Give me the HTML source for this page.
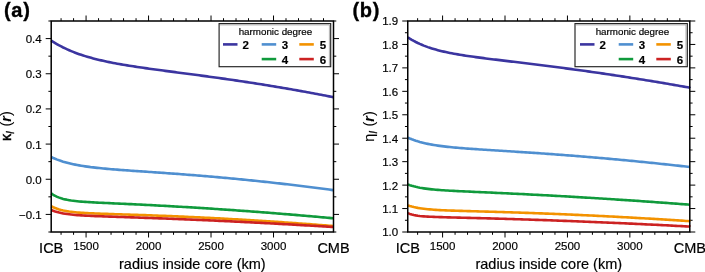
<!DOCTYPE html>
<html><head><meta charset="utf-8"><style>
html,body{margin:0;padding:0;background:#fff;}
svg{display:block;will-change:transform;}
text{font-family:"Liberation Sans",sans-serif;fill:#000;stroke:#000;stroke-width:0.18px;}
.tl{font-size:11.5px;}
.el{font-size:14.5px;}
.lg{font-size:9.8px;}
.ln{font-size:11.5px;font-weight:bold;}
.pl{font-size:20px;font-weight:bold;letter-spacing:0.7px;stroke-width:0.35px;}
.yl{font-size:14.5px;stroke-width:0.08px;}
</style></head><body>
<svg width="705" height="272" viewBox="0 0 705 272">
<rect width="705" height="272" fill="#fff"/>
<path d="M61.07,232.0v2.8M61.07,21.0v-2.8M73.57,232.0v2.8M73.57,21.0v-2.8M86.07,232.0v5.5M86.07,21.0v-5.5M98.56,232.0v2.8M98.56,21.0v-2.8M111.06,232.0v2.8M111.06,21.0v-2.8M123.56,232.0v2.8M123.56,21.0v-2.8M136.05,232.0v2.8M136.05,21.0v-2.8M148.55,232.0v5.5M148.55,21.0v-5.5M161.05,232.0v2.8M161.05,21.0v-2.8M173.54,232.0v2.8M173.54,21.0v-2.8M186.04,232.0v2.8M186.04,21.0v-2.8M198.54,232.0v2.8M198.54,21.0v-2.8M211.03,232.0v5.5M211.03,21.0v-5.5M223.53,232.0v2.8M223.53,21.0v-2.8M236.03,232.0v2.8M236.03,21.0v-2.8M248.52,232.0v2.8M248.52,21.0v-2.8M261.02,232.0v2.8M261.02,21.0v-2.8M273.52,232.0v5.5M273.52,21.0v-5.5M286.01,232.0v2.8M286.01,21.0v-2.8M298.51,232.0v2.8M298.51,21.0v-2.8M311.01,232.0v2.8M311.01,21.0v-2.8M323.50,232.0v2.8M323.50,21.0v-2.8M51.2,232.00h-2.8M333.5,232.00h2.8M51.2,214.42h-5.5M333.5,214.42h5.5M51.2,196.83h-2.8M333.5,196.83h2.8M51.2,179.25h-5.5M333.5,179.25h5.5M51.2,161.67h-2.8M333.5,161.67h2.8M51.2,144.08h-5.5M333.5,144.08h5.5M51.2,126.50h-2.8M333.5,126.50h2.8M51.2,108.92h-5.5M333.5,108.92h5.5M51.2,91.33h-2.8M333.5,91.33h2.8M51.2,73.75h-5.5M333.5,73.75h5.5M51.2,56.17h-2.8M333.5,56.17h2.8M51.2,38.58h-5.5M333.5,38.58h5.5M51.2,21.00h-2.8M333.5,21.00h2.8" stroke="#000" stroke-width="1.0" fill="none"/>
<path d="M51.2,40.61 L53.2,41.90 L55.2,43.12 L57.2,44.29 L59.2,45.41 L61.2,46.47 L63.2,47.49 L65.2,48.45 L67.2,49.38 L69.2,50.27 L71.2,51.11 L73.2,51.92 L75.2,52.70 L77.2,53.44 L79.2,54.15 L81.2,54.84 L83.2,55.49 L85.2,56.12 L87.2,56.73 L89.2,57.31 L91.2,57.87 L93.2,58.41 L95.2,58.93 L97.2,59.43 L99.2,59.92 L101.2,60.38 L103.2,60.84 L105.2,61.28 L107.2,61.70 L109.2,62.12 L111.2,62.52 L113.2,62.91 L115.2,63.29 L117.2,63.66 L119.2,64.02 L121.2,64.37 L123.2,64.72 L125.2,65.05 L127.2,65.38 L129.2,65.71 L131.2,66.02 L133.2,66.34 L135.2,66.64 L137.2,66.95 L139.2,67.24 L141.2,67.54 L143.2,67.83 L145.2,68.11 L147.2,68.39 L149.2,68.67 L151.2,68.95 L153.2,69.23 L155.2,69.50 L157.2,69.77 L159.2,70.04 L161.2,70.31 L163.2,70.58 L165.2,70.84 L167.2,71.11 L169.2,71.37 L171.2,71.63 L173.2,71.90 L175.2,72.16 L177.2,72.42 L179.2,72.68 L181.2,72.94 L183.2,73.21 L185.2,73.47 L187.2,73.73 L189.2,74.00 L191.2,74.26 L193.2,74.53 L195.2,74.79 L197.2,75.06 L199.2,75.32 L201.2,75.59 L203.2,75.86 L205.2,76.13 L207.2,76.40 L209.2,76.68 L211.2,76.95 L213.2,77.23 L215.2,77.50 L217.2,77.78 L219.2,78.06 L221.2,78.34 L223.2,78.62 L225.2,78.91 L227.2,79.19 L229.2,79.48 L231.2,79.77 L233.2,80.06 L235.2,80.35 L237.2,80.65 L239.2,80.94 L241.2,81.24 L243.2,81.54 L245.2,81.84 L247.2,82.15 L249.2,82.45 L251.2,82.76 L253.2,83.07 L255.2,83.38 L257.2,83.69 L259.2,84.01 L261.2,84.32 L263.2,84.64 L265.2,84.96 L267.2,85.29 L269.2,85.61 L271.2,85.94 L273.2,86.27 L275.2,86.60 L277.2,86.93 L279.2,87.27 L281.2,87.60 L283.2,87.94 L285.2,88.29 L287.2,88.63 L289.2,88.97 L291.2,89.32 L293.2,89.67 L295.2,90.03 L297.2,90.38 L299.2,90.74 L301.2,91.10 L303.2,91.46 L305.2,91.82 L307.2,92.18 L309.2,92.55 L311.2,92.92 L313.2,93.29 L315.2,93.67 L317.2,94.04 L319.2,94.42 L321.2,94.80 L323.2,95.19 L325.2,95.57 L327.2,95.96 L329.2,96.35 L331.2,96.74 L333.2,97.13 L333.5,97.19" stroke="#3b35a0" stroke-width="2.6" fill="none" stroke-linejoin="round"/>
<path d="M51.2,157.05 L53.2,157.97 L55.2,158.82 L57.2,159.61 L59.2,160.34 L61.2,161.02 L63.2,161.66 L65.2,162.24 L67.2,162.79 L69.2,163.30 L71.2,163.77 L73.2,164.22 L75.2,164.63 L77.2,165.02 L79.2,165.39 L81.2,165.73 L83.2,166.05 L85.2,166.35 L87.2,166.64 L89.2,166.91 L91.2,167.17 L93.2,167.41 L95.2,167.64 L97.2,167.87 L99.2,168.08 L101.2,168.28 L103.2,168.47 L105.2,168.66 L107.2,168.84 L109.2,169.02 L111.2,169.19 L113.2,169.35 L115.2,169.51 L117.2,169.67 L119.2,169.83 L121.2,169.98 L123.2,170.12 L125.2,170.27 L127.2,170.41 L129.2,170.56 L131.2,170.70 L133.2,170.84 L135.2,170.98 L137.2,171.11 L139.2,171.25 L141.2,171.39 L143.2,171.52 L145.2,171.66 L147.2,171.80 L149.2,171.93 L151.2,172.07 L153.2,172.21 L155.2,172.35 L157.2,172.49 L159.2,172.63 L161.2,172.77 L163.2,172.91 L165.2,173.05 L167.2,173.19 L169.2,173.33 L171.2,173.48 L173.2,173.62 L175.2,173.77 L177.2,173.92 L179.2,174.07 L181.2,174.22 L183.2,174.37 L185.2,174.52 L187.2,174.68 L189.2,174.83 L191.2,174.99 L193.2,175.15 L195.2,175.31 L197.2,175.47 L199.2,175.63 L201.2,175.80 L203.2,175.96 L205.2,176.13 L207.2,176.30 L209.2,176.47 L211.2,176.64 L213.2,176.81 L215.2,176.99 L217.2,177.16 L219.2,177.34 L221.2,177.52 L223.2,177.70 L225.2,177.88 L227.2,178.07 L229.2,178.25 L231.2,178.44 L233.2,178.63 L235.2,178.82 L237.2,179.01 L239.2,179.20 L241.2,179.40 L243.2,179.60 L245.2,179.79 L247.2,179.99 L249.2,180.20 L251.2,180.40 L253.2,180.60 L255.2,180.81 L257.2,181.02 L259.2,181.23 L261.2,181.44 L263.2,181.65 L265.2,181.86 L267.2,182.08 L269.2,182.30 L271.2,182.52 L273.2,182.74 L275.2,182.96 L277.2,183.18 L279.2,183.41 L281.2,183.64 L283.2,183.87 L285.2,184.10 L287.2,184.33 L289.2,184.56 L291.2,184.80 L293.2,185.03 L295.2,185.27 L297.2,185.51 L299.2,185.75 L301.2,186.00 L303.2,186.24 L305.2,186.49 L307.2,186.74 L309.2,186.99 L311.2,187.24 L313.2,187.49 L315.2,187.75 L317.2,188.00 L319.2,188.26 L321.2,188.52 L323.2,188.78 L325.2,189.04 L327.2,189.31 L329.2,189.58 L331.2,189.84 L333.2,190.11 L333.5,190.15" stroke="#4f8fd0" stroke-width="2.6" fill="none" stroke-linejoin="round"/>
<path d="M51.2,193.43 L53.2,194.76 L55.2,195.89 L57.2,196.84 L59.2,197.64 L61.2,198.32 L63.2,198.90 L65.2,199.39 L67.2,199.82 L69.2,200.18 L71.2,200.50 L73.2,200.77 L75.2,201.02 L77.2,201.23 L79.2,201.42 L81.2,201.60 L83.2,201.75 L85.2,201.89 L87.2,202.03 L89.2,202.15 L91.2,202.27 L93.2,202.38 L95.2,202.48 L97.2,202.59 L99.2,202.69 L101.2,202.78 L103.2,202.88 L105.2,202.97 L107.2,203.06 L109.2,203.16 L111.2,203.25 L113.2,203.34 L115.2,203.43 L117.2,203.52 L119.2,203.61 L121.2,203.70 L123.2,203.80 L125.2,203.89 L127.2,203.98 L129.2,204.08 L131.2,204.17 L133.2,204.27 L135.2,204.36 L137.2,204.46 L139.2,204.56 L141.2,204.66 L143.2,204.76 L145.2,204.86 L147.2,204.96 L149.2,205.06 L151.2,205.16 L153.2,205.27 L155.2,205.37 L157.2,205.48 L159.2,205.59 L161.2,205.69 L163.2,205.80 L165.2,205.91 L167.2,206.02 L169.2,206.13 L171.2,206.24 L173.2,206.36 L175.2,206.47 L177.2,206.58 L179.2,206.70 L181.2,206.81 L183.2,206.93 L185.2,207.05 L187.2,207.17 L189.2,207.29 L191.2,207.41 L193.2,207.53 L195.2,207.65 L197.2,207.78 L199.2,207.90 L201.2,208.03 L203.2,208.15 L205.2,208.28 L207.2,208.41 L209.2,208.54 L211.2,208.67 L213.2,208.80 L215.2,208.93 L217.2,209.06 L219.2,209.19 L221.2,209.33 L223.2,209.46 L225.2,209.60 L227.2,209.74 L229.2,209.87 L231.2,210.01 L233.2,210.15 L235.2,210.29 L237.2,210.43 L239.2,210.58 L241.2,210.72 L243.2,210.86 L245.2,211.01 L247.2,211.15 L249.2,211.30 L251.2,211.45 L253.2,211.60 L255.2,211.75 L257.2,211.90 L259.2,212.05 L261.2,212.20 L263.2,212.35 L265.2,212.51 L267.2,212.66 L269.2,212.82 L271.2,212.97 L273.2,213.13 L275.2,213.29 L277.2,213.45 L279.2,213.61 L281.2,213.77 L283.2,213.93 L285.2,214.10 L287.2,214.26 L289.2,214.42 L291.2,214.59 L293.2,214.76 L295.2,214.92 L297.2,215.09 L299.2,215.26 L301.2,215.43 L303.2,215.60 L305.2,215.77 L307.2,215.95 L309.2,216.12 L311.2,216.30 L313.2,216.47 L315.2,216.65 L317.2,216.83 L319.2,217.00 L321.2,217.18 L323.2,217.36 L325.2,217.54 L327.2,217.73 L329.2,217.91 L331.2,218.09 L333.2,218.28 L333.5,218.30" stroke="#109a3c" stroke-width="2.6" fill="none" stroke-linejoin="round"/>
<path d="M51.2,206.25 L53.2,207.22 L55.2,208.06 L57.2,208.79 L59.2,209.42 L61.2,209.96 L63.2,210.43 L65.2,210.84 L67.2,211.20 L69.2,211.52 L71.2,211.79 L73.2,212.03 L75.2,212.24 L77.2,212.43 L79.2,212.60 L81.2,212.75 L83.2,212.88 L85.2,213.01 L87.2,213.12 L89.2,213.22 L91.2,213.32 L93.2,213.41 L95.2,213.49 L97.2,213.57 L99.2,213.64 L101.2,213.72 L103.2,213.79 L105.2,213.85 L107.2,213.92 L109.2,213.99 L111.2,214.05 L113.2,214.11 L115.2,214.18 L117.2,214.24 L119.2,214.30 L121.2,214.37 L123.2,214.43 L125.2,214.49 L127.2,214.56 L129.2,214.62 L131.2,214.69 L133.2,214.75 L135.2,214.82 L137.2,214.88 L139.2,214.95 L141.2,215.02 L143.2,215.09 L145.2,215.16 L147.2,215.23 L149.2,215.30 L151.2,215.38 L153.2,215.45 L155.2,215.52 L157.2,215.60 L159.2,215.68 L161.2,215.75 L163.2,215.83 L165.2,215.91 L167.2,215.99 L169.2,216.07 L171.2,216.15 L173.2,216.24 L175.2,216.32 L177.2,216.41 L179.2,216.49 L181.2,216.58 L183.2,216.67 L185.2,216.76 L187.2,216.85 L189.2,216.94 L191.2,217.03 L193.2,217.12 L195.2,217.22 L197.2,217.31 L199.2,217.41 L201.2,217.50 L203.2,217.60 L205.2,217.70 L207.2,217.80 L209.2,217.90 L211.2,218.00 L213.2,218.10 L215.2,218.21 L217.2,218.31 L219.2,218.42 L221.2,218.52 L223.2,218.63 L225.2,218.74 L227.2,218.85 L229.2,218.96 L231.2,219.07 L233.2,219.18 L235.2,219.30 L237.2,219.41 L239.2,219.53 L241.2,219.64 L243.2,219.76 L245.2,219.88 L247.2,220.00 L249.2,220.12 L251.2,220.24 L253.2,220.36 L255.2,220.48 L257.2,220.61 L259.2,220.73 L261.2,220.86 L263.2,220.98 L265.2,221.11 L267.2,221.24 L269.2,221.37 L271.2,221.50 L273.2,221.63 L275.2,221.77 L277.2,221.90 L279.2,222.03 L281.2,222.17 L283.2,222.31 L285.2,222.44 L287.2,222.58 L289.2,222.72 L291.2,222.86 L293.2,223.00 L295.2,223.15 L297.2,223.29 L299.2,223.43 L301.2,223.58 L303.2,223.73 L305.2,223.87 L307.2,224.02 L309.2,224.17 L311.2,224.32 L313.2,224.47 L315.2,224.63 L317.2,224.78 L319.2,224.93 L321.2,225.09 L323.2,225.24 L325.2,225.40 L327.2,225.56 L329.2,225.72 L331.2,225.88 L333.2,226.04 L333.5,226.06" stroke="#f39200" stroke-width="2.6" fill="none" stroke-linejoin="round"/>
<path d="M51.2,210.00 L53.2,210.80 L55.2,211.48 L57.2,212.07 L59.2,212.58 L61.2,213.03 L63.2,213.41 L65.2,213.75 L67.2,214.05 L69.2,214.31 L71.2,214.54 L73.2,214.74 L75.2,214.93 L77.2,215.09 L79.2,215.24 L81.2,215.37 L83.2,215.50 L85.2,215.61 L87.2,215.72 L89.2,215.82 L91.2,215.91 L93.2,216.00 L95.2,216.08 L97.2,216.16 L99.2,216.24 L101.2,216.31 L103.2,216.39 L105.2,216.46 L107.2,216.53 L109.2,216.60 L111.2,216.67 L113.2,216.73 L115.2,216.80 L117.2,216.87 L119.2,216.94 L121.2,217.00 L123.2,217.07 L125.2,217.14 L127.2,217.21 L129.2,217.27 L131.2,217.34 L133.2,217.41 L135.2,217.48 L137.2,217.55 L139.2,217.62 L141.2,217.69 L143.2,217.76 L145.2,217.83 L147.2,217.90 L149.2,217.97 L151.2,218.05 L153.2,218.12 L155.2,218.19 L157.2,218.27 L159.2,218.34 L161.2,218.42 L163.2,218.49 L165.2,218.57 L167.2,218.65 L169.2,218.72 L171.2,218.80 L173.2,218.88 L175.2,218.96 L177.2,219.04 L179.2,219.12 L181.2,219.20 L183.2,219.28 L185.2,219.36 L187.2,219.45 L189.2,219.53 L191.2,219.61 L193.2,219.70 L195.2,219.78 L197.2,219.87 L199.2,219.95 L201.2,220.04 L203.2,220.13 L205.2,220.22 L207.2,220.30 L209.2,220.39 L211.2,220.48 L213.2,220.57 L215.2,220.66 L217.2,220.75 L219.2,220.84 L221.2,220.94 L223.2,221.03 L225.2,221.12 L227.2,221.22 L229.2,221.31 L231.2,221.41 L233.2,221.50 L235.2,221.60 L237.2,221.70 L239.2,221.79 L241.2,221.89 L243.2,221.99 L245.2,222.09 L247.2,222.19 L249.2,222.29 L251.2,222.39 L253.2,222.49 L255.2,222.59 L257.2,222.69 L259.2,222.80 L261.2,222.90 L263.2,223.01 L265.2,223.11 L267.2,223.22 L269.2,223.32 L271.2,223.43 L273.2,223.54 L275.2,223.64 L277.2,223.75 L279.2,223.86 L281.2,223.97 L283.2,224.08 L285.2,224.19 L287.2,224.30 L289.2,224.41 L291.2,224.52 L293.2,224.64 L295.2,224.75 L297.2,224.86 L299.2,224.98 L301.2,225.09 L303.2,225.21 L305.2,225.33 L307.2,225.44 L309.2,225.56 L311.2,225.68 L313.2,225.80 L315.2,225.92 L317.2,226.03 L319.2,226.15 L321.2,226.28 L323.2,226.40 L325.2,226.52 L327.2,226.64 L329.2,226.76 L331.2,226.89 L333.2,227.01 L333.5,227.03" stroke="#cc2222" stroke-width="2.6" fill="none" stroke-linejoin="round"/>
<rect x="51.2" y="21.0" width="282.30" height="211.0" stroke="#000" stroke-width="1.5" fill="none"/>
<text x="41.7" y="43.0" text-anchor="end" class="tl">0.4</text>
<text x="41.7" y="78.2" text-anchor="end" class="tl">0.3</text>
<text x="41.7" y="113.3" text-anchor="end" class="tl">0.2</text>
<text x="41.7" y="148.5" text-anchor="end" class="tl">0.1</text>
<text x="41.7" y="183.7" text-anchor="end" class="tl">0.0</text>
<text x="41.7" y="218.8" text-anchor="end" class="tl">−0.1</text>
<text x="86.07" y="249.9" text-anchor="middle" class="tl">1500</text>
<text x="148.55" y="249.9" text-anchor="middle" class="tl">2000</text>
<text x="211.03" y="249.9" text-anchor="middle" class="tl">2500</text>
<text x="273.52" y="249.9" text-anchor="middle" class="tl">3000</text>
<text x="51.20" y="253.3" text-anchor="middle" class="el">ICB</text>
<text x="333.50" y="253.3" text-anchor="middle" class="el">CMB</text>
<text x="192.35" y="268.9" text-anchor="middle" class="el">radius inside core (km)</text>
<path d="M417.61,232.0v2.8M417.61,21.0v-2.8M430.10,232.0v2.8M430.10,21.0v-2.8M442.58,232.0v5.5M442.58,21.0v-5.5M455.07,232.0v2.8M455.07,21.0v-2.8M467.56,232.0v2.8M467.56,21.0v-2.8M480.04,232.0v2.8M480.04,21.0v-2.8M492.53,232.0v2.8M492.53,21.0v-2.8M505.01,232.0v5.5M505.01,21.0v-5.5M517.50,232.0v2.8M517.50,21.0v-2.8M529.98,232.0v2.8M529.98,21.0v-2.8M542.47,232.0v2.8M542.47,21.0v-2.8M554.96,232.0v2.8M554.96,21.0v-2.8M567.44,232.0v5.5M567.44,21.0v-5.5M579.93,232.0v2.8M579.93,21.0v-2.8M592.41,232.0v2.8M592.41,21.0v-2.8M604.90,232.0v2.8M604.90,21.0v-2.8M617.38,232.0v2.8M617.38,21.0v-2.8M629.87,232.0v5.5M629.87,21.0v-5.5M642.35,232.0v2.8M642.35,21.0v-2.8M654.84,232.0v2.8M654.84,21.0v-2.8M667.33,232.0v2.8M667.33,21.0v-2.8M679.81,232.0v2.8M679.81,21.0v-2.8M407.75,232.00h-5.5M689.8,232.00h5.5M407.75,220.28h-2.8M689.8,220.28h2.8M407.75,208.56h-5.5M689.8,208.56h5.5M407.75,196.83h-2.8M689.8,196.83h2.8M407.75,185.11h-5.5M689.8,185.11h5.5M407.75,173.39h-2.8M689.8,173.39h2.8M407.75,161.67h-5.5M689.8,161.67h5.5M407.75,149.94h-2.8M689.8,149.94h2.8M407.75,138.22h-5.5M689.8,138.22h5.5M407.75,126.50h-2.8M689.8,126.50h2.8M407.75,114.78h-5.5M689.8,114.78h5.5M407.75,103.06h-2.8M689.8,103.06h2.8M407.75,91.33h-5.5M689.8,91.33h5.5M407.75,79.61h-2.8M689.8,79.61h2.8M407.75,67.89h-5.5M689.8,67.89h5.5M407.75,56.17h-2.8M689.8,56.17h2.8M407.75,44.44h-5.5M689.8,44.44h5.5M407.75,32.72h-2.8M689.8,32.72h2.8M407.75,21.00h-5.5M689.8,21.00h5.5" stroke="#000" stroke-width="1.0" fill="none"/>
<path d="M407.8,37.28 L409.8,38.59 L411.8,39.81 L413.8,40.94 L415.8,42.01 L417.8,43.00 L419.8,43.93 L421.8,44.80 L423.8,45.62 L425.8,46.38 L427.8,47.11 L429.8,47.79 L431.8,48.43 L433.8,49.03 L435.8,49.61 L437.8,50.15 L439.8,50.66 L441.8,51.15 L443.8,51.62 L445.8,52.07 L447.8,52.49 L449.8,52.90 L451.8,53.29 L453.8,53.66 L455.8,54.03 L457.8,54.38 L459.8,54.71 L461.8,55.04 L463.8,55.36 L465.8,55.67 L467.8,55.97 L469.8,56.26 L471.8,56.55 L473.8,56.83 L475.8,57.10 L477.8,57.37 L479.8,57.64 L481.8,57.90 L483.8,58.16 L485.8,58.42 L487.8,58.67 L489.8,58.92 L491.8,59.17 L493.8,59.42 L495.8,59.66 L497.8,59.91 L499.8,60.15 L501.8,60.39 L503.8,60.63 L505.8,60.87 L507.8,61.11 L509.8,61.35 L511.8,61.59 L513.8,61.83 L515.8,62.08 L517.8,62.32 L519.8,62.56 L521.8,62.80 L523.8,63.04 L525.8,63.28 L527.8,63.53 L529.8,63.77 L531.8,64.02 L533.8,64.26 L535.8,64.51 L537.8,64.76 L539.8,65.00 L541.8,65.25 L543.8,65.50 L545.8,65.76 L547.8,66.01 L549.8,66.26 L551.8,66.52 L553.8,66.78 L555.8,67.04 L557.8,67.29 L559.8,67.56 L561.8,67.82 L563.8,68.08 L565.8,68.35 L567.8,68.61 L569.8,68.88 L571.8,69.15 L573.8,69.42 L575.8,69.69 L577.8,69.96 L579.8,70.24 L581.8,70.52 L583.8,70.79 L585.8,71.07 L587.8,71.35 L589.8,71.64 L591.8,71.92 L593.8,72.20 L595.8,72.49 L597.8,72.78 L599.8,73.07 L601.8,73.36 L603.8,73.65 L605.8,73.95 L607.8,74.24 L609.8,74.54 L611.8,74.84 L613.8,75.14 L615.8,75.44 L617.8,75.75 L619.8,76.05 L621.8,76.36 L623.8,76.66 L625.8,76.97 L627.8,77.29 L629.8,77.60 L631.8,77.91 L633.8,78.23 L635.8,78.55 L637.8,78.86 L639.8,79.18 L641.8,79.51 L643.8,79.83 L645.8,80.16 L647.8,80.48 L649.8,80.81 L651.8,81.14 L653.8,81.47 L655.8,81.80 L657.8,82.14 L659.8,82.47 L661.8,82.81 L663.8,83.15 L665.8,83.49 L667.8,83.83 L669.8,84.18 L671.8,84.52 L673.8,84.87 L675.8,85.22 L677.8,85.57 L679.8,85.92 L681.8,86.27 L683.8,86.63 L685.8,86.98 L687.8,87.34 L689.8,87.70 L689.8,87.71" stroke="#3b35a0" stroke-width="2.6" fill="none" stroke-linejoin="round"/>
<path d="M407.8,137.62 L409.8,138.50 L411.8,139.30 L413.8,140.04 L415.8,140.73 L417.8,141.36 L419.8,141.94 L421.8,142.47 L423.8,142.97 L425.8,143.43 L427.8,143.86 L429.8,144.25 L431.8,144.62 L433.8,144.97 L435.8,145.29 L437.8,145.59 L439.8,145.87 L441.8,146.14 L443.8,146.39 L445.8,146.62 L447.8,146.84 L449.8,147.06 L451.8,147.26 L453.8,147.45 L455.8,147.63 L457.8,147.81 L459.8,147.98 L461.8,148.14 L463.8,148.30 L465.8,148.46 L467.8,148.61 L469.8,148.75 L471.8,148.89 L473.8,149.03 L475.8,149.17 L477.8,149.30 L479.8,149.43 L481.8,149.56 L483.8,149.69 L485.8,149.82 L487.8,149.95 L489.8,150.07 L491.8,150.20 L493.8,150.32 L495.8,150.45 L497.8,150.57 L499.8,150.70 L501.8,150.82 L503.8,150.95 L505.8,151.07 L507.8,151.20 L509.8,151.32 L511.8,151.45 L513.8,151.57 L515.8,151.70 L517.8,151.83 L519.8,151.96 L521.8,152.09 L523.8,152.22 L525.8,152.35 L527.8,152.48 L529.8,152.61 L531.8,152.75 L533.8,152.88 L535.8,153.02 L537.8,153.15 L539.8,153.29 L541.8,153.43 L543.8,153.57 L545.8,153.71 L547.8,153.85 L549.8,154.00 L551.8,154.14 L553.8,154.29 L555.8,154.43 L557.8,154.58 L559.8,154.73 L561.8,154.88 L563.8,155.03 L565.8,155.18 L567.8,155.34 L569.8,155.49 L571.8,155.65 L573.8,155.80 L575.8,155.96 L577.8,156.12 L579.8,156.28 L581.8,156.44 L583.8,156.61 L585.8,156.77 L587.8,156.94 L589.8,157.10 L591.8,157.27 L593.8,157.44 L595.8,157.61 L597.8,157.78 L599.8,157.95 L601.8,158.13 L603.8,158.30 L605.8,158.48 L607.8,158.66 L609.8,158.84 L611.8,159.02 L613.8,159.20 L615.8,159.38 L617.8,159.56 L619.8,159.75 L621.8,159.93 L623.8,160.12 L625.8,160.31 L627.8,160.50 L629.8,160.69 L631.8,160.88 L633.8,161.08 L635.8,161.27 L637.8,161.47 L639.8,161.67 L641.8,161.86 L643.8,162.06 L645.8,162.26 L647.8,162.47 L649.8,162.67 L651.8,162.87 L653.8,163.08 L655.8,163.29 L657.8,163.50 L659.8,163.71 L661.8,163.92 L663.8,164.13 L665.8,164.34 L667.8,164.56 L669.8,164.77 L671.8,164.99 L673.8,165.21 L675.8,165.43 L677.8,165.65 L679.8,165.87 L681.8,166.09 L683.8,166.32 L685.8,166.54 L687.8,166.77 L689.8,167.00 L689.8,167.00" stroke="#4f8fd0" stroke-width="2.6" fill="none" stroke-linejoin="round"/>
<path d="M407.8,184.40 L409.8,185.14 L411.8,185.78 L413.8,186.35 L415.8,186.85 L417.8,187.30 L419.8,187.70 L421.8,188.05 L423.8,188.37 L425.8,188.65 L427.8,188.91 L429.8,189.14 L431.8,189.35 L433.8,189.55 L435.8,189.72 L437.8,189.89 L439.8,190.04 L441.8,190.18 L443.8,190.32 L445.8,190.44 L447.8,190.56 L449.8,190.68 L451.8,190.79 L453.8,190.90 L455.8,191.00 L457.8,191.10 L459.8,191.20 L461.8,191.29 L463.8,191.39 L465.8,191.48 L467.8,191.57 L469.8,191.66 L471.8,191.75 L473.8,191.84 L475.8,191.93 L477.8,192.02 L479.8,192.11 L481.8,192.20 L483.8,192.29 L485.8,192.38 L487.8,192.47 L489.8,192.56 L491.8,192.65 L493.8,192.74 L495.8,192.84 L497.8,192.93 L499.8,193.02 L501.8,193.11 L503.8,193.21 L505.8,193.30 L507.8,193.39 L509.8,193.49 L511.8,193.59 L513.8,193.68 L515.8,193.78 L517.8,193.88 L519.8,193.97 L521.8,194.07 L523.8,194.17 L525.8,194.27 L527.8,194.37 L529.8,194.48 L531.8,194.58 L533.8,194.68 L535.8,194.78 L537.8,194.89 L539.8,194.99 L541.8,195.10 L543.8,195.20 L545.8,195.31 L547.8,195.42 L549.8,195.52 L551.8,195.63 L553.8,195.74 L555.8,195.85 L557.8,195.96 L559.8,196.07 L561.8,196.19 L563.8,196.30 L565.8,196.41 L567.8,196.52 L569.8,196.64 L571.8,196.75 L573.8,196.87 L575.8,196.99 L577.8,197.10 L579.8,197.22 L581.8,197.34 L583.8,197.46 L585.8,197.58 L587.8,197.70 L589.8,197.82 L591.8,197.94 L593.8,198.06 L595.8,198.19 L597.8,198.31 L599.8,198.44 L601.8,198.56 L603.8,198.69 L605.8,198.81 L607.8,198.94 L609.8,199.07 L611.8,199.20 L613.8,199.32 L615.8,199.45 L617.8,199.58 L619.8,199.71 L621.8,199.85 L623.8,199.98 L625.8,200.11 L627.8,200.25 L629.8,200.38 L631.8,200.51 L633.8,200.65 L635.8,200.79 L637.8,200.92 L639.8,201.06 L641.8,201.20 L643.8,201.34 L645.8,201.48 L647.8,201.62 L649.8,201.76 L651.8,201.90 L653.8,202.04 L655.8,202.19 L657.8,202.33 L659.8,202.47 L661.8,202.62 L663.8,202.76 L665.8,202.91 L667.8,203.06 L669.8,203.20 L671.8,203.35 L673.8,203.50 L675.8,203.65 L677.8,203.80 L679.8,203.95 L681.8,204.10 L683.8,204.26 L685.8,204.41 L687.8,204.56 L689.8,204.72 L689.8,204.72" stroke="#109a3c" stroke-width="2.6" fill="none" stroke-linejoin="round"/>
<path d="M407.8,205.41 L409.8,206.05 L411.8,206.60 L413.8,207.09 L415.8,207.51 L417.8,207.89 L419.8,208.22 L421.8,208.52 L423.8,208.78 L425.8,209.01 L427.8,209.21 L429.8,209.40 L431.8,209.56 L433.8,209.71 L435.8,209.84 L437.8,209.97 L439.8,210.08 L441.8,210.18 L443.8,210.27 L445.8,210.36 L447.8,210.44 L449.8,210.52 L451.8,210.59 L453.8,210.66 L455.8,210.73 L457.8,210.80 L459.8,210.86 L461.8,210.92 L463.8,210.98 L465.8,211.03 L467.8,211.09 L469.8,211.15 L471.8,211.20 L473.8,211.26 L475.8,211.32 L477.8,211.37 L479.8,211.43 L481.8,211.48 L483.8,211.54 L485.8,211.59 L487.8,211.65 L489.8,211.71 L491.8,211.77 L493.8,211.82 L495.8,211.88 L497.8,211.94 L499.8,212.00 L501.8,212.06 L503.8,212.12 L505.8,212.19 L507.8,212.25 L509.8,212.31 L511.8,212.38 L513.8,212.44 L515.8,212.51 L517.8,212.57 L519.8,212.64 L521.8,212.71 L523.8,212.77 L525.8,212.84 L527.8,212.91 L529.8,212.98 L531.8,213.06 L533.8,213.13 L535.8,213.20 L537.8,213.27 L539.8,213.35 L541.8,213.42 L543.8,213.50 L545.8,213.58 L547.8,213.66 L549.8,213.73 L551.8,213.81 L553.8,213.89 L555.8,213.97 L557.8,214.06 L559.8,214.14 L561.8,214.22 L563.8,214.31 L565.8,214.39 L567.8,214.48 L569.8,214.56 L571.8,214.65 L573.8,214.74 L575.8,214.83 L577.8,214.92 L579.8,215.01 L581.8,215.10 L583.8,215.19 L585.8,215.28 L587.8,215.38 L589.8,215.47 L591.8,215.56 L593.8,215.66 L595.8,215.76 L597.8,215.85 L599.8,215.95 L601.8,216.05 L603.8,216.15 L605.8,216.25 L607.8,216.35 L609.8,216.46 L611.8,216.56 L613.8,216.66 L615.8,216.77 L617.8,216.87 L619.8,216.98 L621.8,217.09 L623.8,217.19 L625.8,217.30 L627.8,217.41 L629.8,217.52 L631.8,217.63 L633.8,217.74 L635.8,217.86 L637.8,217.97 L639.8,218.08 L641.8,218.20 L643.8,218.31 L645.8,218.43 L647.8,218.55 L649.8,218.67 L651.8,218.79 L653.8,218.90 L655.8,219.03 L657.8,219.15 L659.8,219.27 L661.8,219.39 L663.8,219.51 L665.8,219.64 L667.8,219.76 L669.8,219.89 L671.8,220.02 L673.8,220.14 L675.8,220.27 L677.8,220.40 L679.8,220.53 L681.8,220.66 L683.8,220.79 L685.8,220.93 L687.8,221.06 L689.8,221.19 L689.8,221.20" stroke="#f39200" stroke-width="2.6" fill="none" stroke-linejoin="round"/>
<path d="M407.8,213.15 L409.8,213.90 L411.8,214.51 L413.8,214.99 L415.8,215.38 L417.8,215.70 L419.8,215.96 L421.8,216.17 L423.8,216.34 L425.8,216.49 L427.8,216.61 L429.8,216.72 L431.8,216.82 L433.8,216.90 L435.8,216.97 L437.8,217.04 L439.8,217.10 L441.8,217.16 L443.8,217.22 L445.8,217.27 L447.8,217.33 L449.8,217.38 L451.8,217.43 L453.8,217.48 L455.8,217.53 L457.8,217.58 L459.8,217.63 L461.8,217.68 L463.8,217.73 L465.8,217.78 L467.8,217.83 L469.8,217.88 L471.8,217.93 L473.8,217.98 L475.8,218.03 L477.8,218.09 L479.8,218.14 L481.8,218.19 L483.8,218.25 L485.8,218.30 L487.8,218.36 L489.8,218.41 L491.8,218.47 L493.8,218.52 L495.8,218.58 L497.8,218.64 L499.8,218.70 L501.8,218.76 L503.8,218.81 L505.8,218.87 L507.8,218.93 L509.8,218.99 L511.8,219.06 L513.8,219.12 L515.8,219.18 L517.8,219.24 L519.8,219.31 L521.8,219.37 L523.8,219.43 L525.8,219.50 L527.8,219.56 L529.8,219.63 L531.8,219.70 L533.8,219.76 L535.8,219.83 L537.8,219.90 L539.8,219.97 L541.8,220.04 L543.8,220.10 L545.8,220.17 L547.8,220.25 L549.8,220.32 L551.8,220.39 L553.8,220.46 L555.8,220.53 L557.8,220.61 L559.8,220.68 L561.8,220.75 L563.8,220.83 L565.8,220.90 L567.8,220.98 L569.8,221.05 L571.8,221.13 L573.8,221.21 L575.8,221.29 L577.8,221.36 L579.8,221.44 L581.8,221.52 L583.8,221.60 L585.8,221.68 L587.8,221.76 L589.8,221.85 L591.8,221.93 L593.8,222.01 L595.8,222.09 L597.8,222.18 L599.8,222.26 L601.8,222.34 L603.8,222.43 L605.8,222.51 L607.8,222.60 L609.8,222.69 L611.8,222.77 L613.8,222.86 L615.8,222.95 L617.8,223.04 L619.8,223.13 L621.8,223.22 L623.8,223.31 L625.8,223.40 L627.8,223.49 L629.8,223.58 L631.8,223.67 L633.8,223.77 L635.8,223.86 L637.8,223.95 L639.8,224.05 L641.8,224.14 L643.8,224.24 L645.8,224.33 L647.8,224.43 L649.8,224.53 L651.8,224.62 L653.8,224.72 L655.8,224.82 L657.8,224.92 L659.8,225.02 L661.8,225.12 L663.8,225.22 L665.8,225.32 L667.8,225.42 L669.8,225.52 L671.8,225.63 L673.8,225.73 L675.8,225.83 L677.8,225.94 L679.8,226.04 L681.8,226.15 L683.8,226.25 L685.8,226.36 L687.8,226.47 L689.8,226.57 L689.8,226.58" stroke="#cc2222" stroke-width="2.6" fill="none" stroke-linejoin="round"/>
<rect x="407.75" y="21.0" width="282.05" height="211.0" stroke="#000" stroke-width="1.5" fill="none"/>
<text x="398.2" y="25.4" text-anchor="end" class="tl">1.9</text>
<text x="398.2" y="48.8" text-anchor="end" class="tl">1.8</text>
<text x="398.2" y="72.3" text-anchor="end" class="tl">1.7</text>
<text x="398.2" y="95.7" text-anchor="end" class="tl">1.6</text>
<text x="398.2" y="119.2" text-anchor="end" class="tl">1.5</text>
<text x="398.2" y="142.6" text-anchor="end" class="tl">1.4</text>
<text x="398.2" y="166.1" text-anchor="end" class="tl">1.3</text>
<text x="398.2" y="189.5" text-anchor="end" class="tl">1.2</text>
<text x="398.2" y="213.0" text-anchor="end" class="tl">1.1</text>
<text x="398.2" y="236.4" text-anchor="end" class="tl">1.0</text>
<text x="442.58" y="249.9" text-anchor="middle" class="tl">1500</text>
<text x="505.01" y="249.9" text-anchor="middle" class="tl">2000</text>
<text x="567.44" y="249.9" text-anchor="middle" class="tl">2500</text>
<text x="629.87" y="249.9" text-anchor="middle" class="tl">3000</text>
<text x="407.75" y="253.3" text-anchor="middle" class="el">ICB</text>
<text x="689.80" y="253.3" text-anchor="middle" class="el">CMB</text>
<text x="548.77" y="268.9" text-anchor="middle" class="el">radius inside core (km)</text>
<rect x="219.1" y="23.6" width="111.6" height="43.1" fill="#fff" stroke="#222" stroke-width="1.15"/>
<path d="M219.9,24.9H329.4V65.9" fill="none" stroke="#9a9a9a" stroke-width="0.8"/>
<text x="275.4" y="35.1" text-anchor="middle" class="lg">harmonic degree</text>
<path d="M223.0,44.4h14.5" stroke="#3b35a0" stroke-width="2.6"/>
<text x="242.5" y="48.9" class="ln">2</text>
<path d="M261.7,44.4h14.5" stroke="#4f8fd0" stroke-width="2.6"/>
<text x="281.8" y="48.9" class="ln">3</text>
<path d="M299.3,44.4h14.5" stroke="#f39200" stroke-width="2.6"/>
<text x="319.8" y="48.9" class="ln">5</text>
<path d="M261.7,59.1h14.5" stroke="#109a3c" stroke-width="2.6"/>
<text x="281.8" y="63.6" class="ln">4</text>
<path d="M299.3,59.1h14.5" stroke="#cc2222" stroke-width="2.6"/>
<text x="319.8" y="63.6" class="ln">6</text>
<rect x="575.0" y="23.6" width="112.3" height="43.1" fill="#fff" stroke="#222" stroke-width="1.15"/>
<path d="M575.8,24.9H686.0V65.9" fill="none" stroke="#9a9a9a" stroke-width="0.8"/>
<text x="632.4" y="35.1" text-anchor="middle" class="lg">harmonic degree</text>
<path d="M580.0,44.4h14.5" stroke="#3b35a0" stroke-width="2.6"/>
<text x="599.5" y="48.9" class="ln">2</text>
<path d="M618.7,44.4h14.5" stroke="#4f8fd0" stroke-width="2.6"/>
<text x="638.8" y="48.9" class="ln">3</text>
<path d="M656.3,44.4h14.5" stroke="#f39200" stroke-width="2.6"/>
<text x="676.8" y="48.9" class="ln">5</text>
<path d="M618.7,59.1h14.5" stroke="#109a3c" stroke-width="2.6"/>
<text x="638.8" y="63.6" class="ln">4</text>
<path d="M656.3,59.1h14.5" stroke="#cc2222" stroke-width="2.6"/>
<text x="676.8" y="63.6" class="ln">6</text>
<text x="4" y="17.1" class="pl">(a)</text>
<text x="352.5" y="17.1" class="pl">(b)</text>
<g transform="translate(11,140.9) rotate(-90)"><text x="0" y="0" class="yl"><tspan style="stroke-width:0.45px">κ</tspan><tspan font-size="10" font-style="italic" style="stroke-width:0.3px" dy="2.5">l</tspan><tspan dy="-2.5" dx="0.9" style="stroke-width:0.08px"> (</tspan><tspan font-style="italic" font-weight="bold">r</tspan>)</text></g>
<g transform="translate(374,141.7) rotate(-90)"><text x="0" y="0" class="yl"><tspan style="stroke-width:0.15px">η</tspan><tspan font-size="10" font-style="italic" style="stroke-width:0.3px" dy="2.5">l</tspan><tspan dy="-2.5" dx="0.9" style="stroke-width:0.08px"> (</tspan><tspan font-style="italic" font-weight="bold">r</tspan>)</text></g>
</svg>
</body></html>
